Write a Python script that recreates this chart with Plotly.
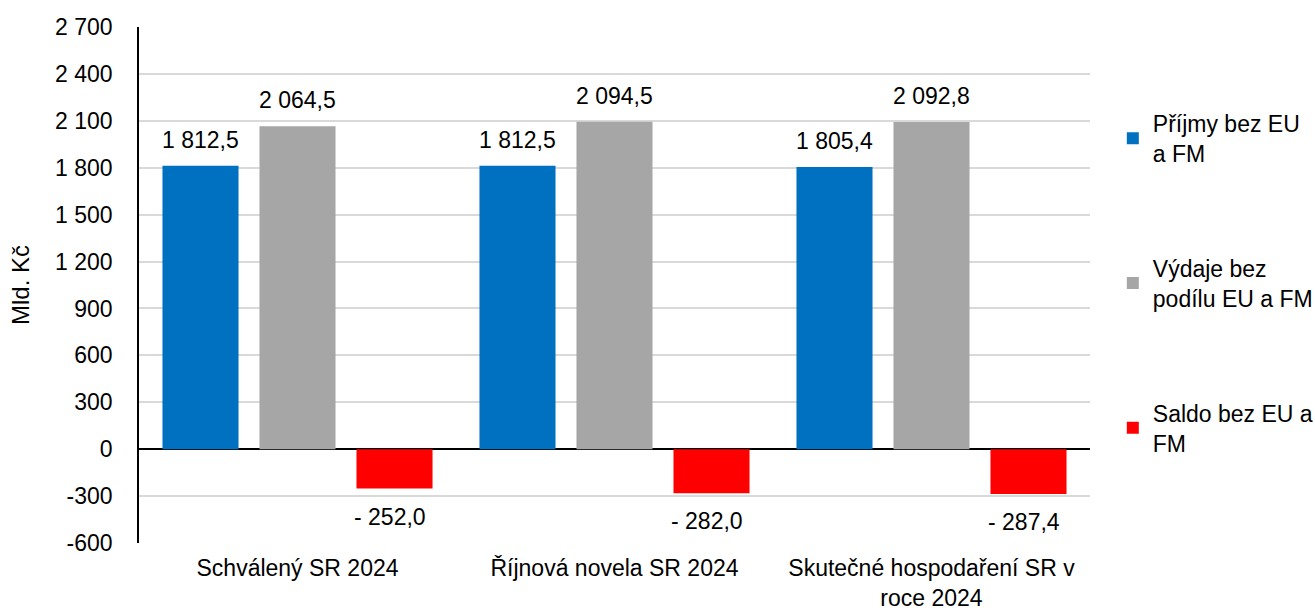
import plotly.graph_objects as go

categories = ["Schválený SR 2024", "Říjnová novela SR 2024", "Skutečné hospodaření SR v<br>roce 2024"]
prijmy = [1812.5, 1812.5, 1805.4]
vydaje = [2064.5, 2094.5, 2092.8]
saldo = [-252.0, -282.0, -287.4]

series_names = ["Příjmy bez EU<br>a FM", "Výdaje bez<br>podílu EU a FM", "Saldo bez EU a<br>FM"]
colors = ["#0070c0", "#a6a6a6", "#ff0000"]

tick_vals = list(range(-600, 2701, 300))

FONT = "Liberation Sans, Arial, sans-serif"
FS = 23


def fmt_num(v):
    s = f"{abs(v):,.1f}".replace(",", " ").replace(".", ",")
    return ("- " + s) if v < 0 else s


def fmt_tick(v):
    s = f"{abs(v):,}".replace(",", " ")
    return ("-" + s) if v < 0 else s


fig = go.Figure()
all_series = [prijmy, vydaje, saldo]
for i, (name, vals) in enumerate(zip(series_names, all_series)):
    fig.add_trace(
        go.Bar(
            x=categories,
            y=vals,
            name=name,
            legendgroup=str(i),
            marker=dict(color=colors[i], line=dict(width=0)),
        )
    )

# data labels, placed on the bar ends; shifted sideways to the bar slot
slot = 97
for i, vals in enumerate(all_series):
    for cat, v in zip(categories, vals):
        neg = v < 0
        fig.add_annotation(
            x=cat,
            y=v,
            text=fmt_num(v),
            showarrow=False,
            xanchor="center",
            yanchor="middle",
            xshift=(i - 1) * slot - (5 if neg else 0),
            yshift=-28 if neg else 26,
            font=dict(family=FONT, size=FS, color="#000000"),
        )

fig.update_layout(
    width=1315,
    height=608,
    barmode="group",
    bargap=0.082,
    bargroupgap=0.216,
    plot_bgcolor="white",
    paper_bgcolor="white",
    font=dict(family=FONT, size=FS, color="#000000"),
    margin=dict(l=139, r=225, t=27, b=65, autoexpand=False),
    showlegend=True,
    legend=dict(
        x=1.024,
        y=0.855,
        xanchor="left",
        yanchor="top",
        tracegroupgap=82,
        font=dict(family=FONT, size=FS),
        itemwidth=30,
        bgcolor="rgba(0,0,0,0)",
    ),
)

fig.update_xaxes(
    showgrid=False,
    showline=False,
    ticks="",
    ticklabelstandoff=9,
    tickfont=dict(size=FS),
    automargin=False,
)

fig.update_yaxes(
    range=[-600, 2700],
    tickvals=tick_vals,
    ticktext=[fmt_tick(v) for v in tick_vals],
    showgrid=True,
    gridcolor="#d9d9d9",
    gridwidth=1.5,
    zeroline=True,
    zerolinecolor="#000000",
    zerolinewidth=1.5,
    showline=True,
    linecolor="#000000",
    linewidth=1.5,
    ticks="",
    ticklabelstandoff=20,
    tickfont=dict(size=FS),
    title=dict(text="Mld. Kč", font=dict(size=24), standoff=19),
    automargin=False,
)

fig.write_html(
    "out.html",
    config={"displayModeBar": False},
    post_script="document.body.style.margin='0';",
)
